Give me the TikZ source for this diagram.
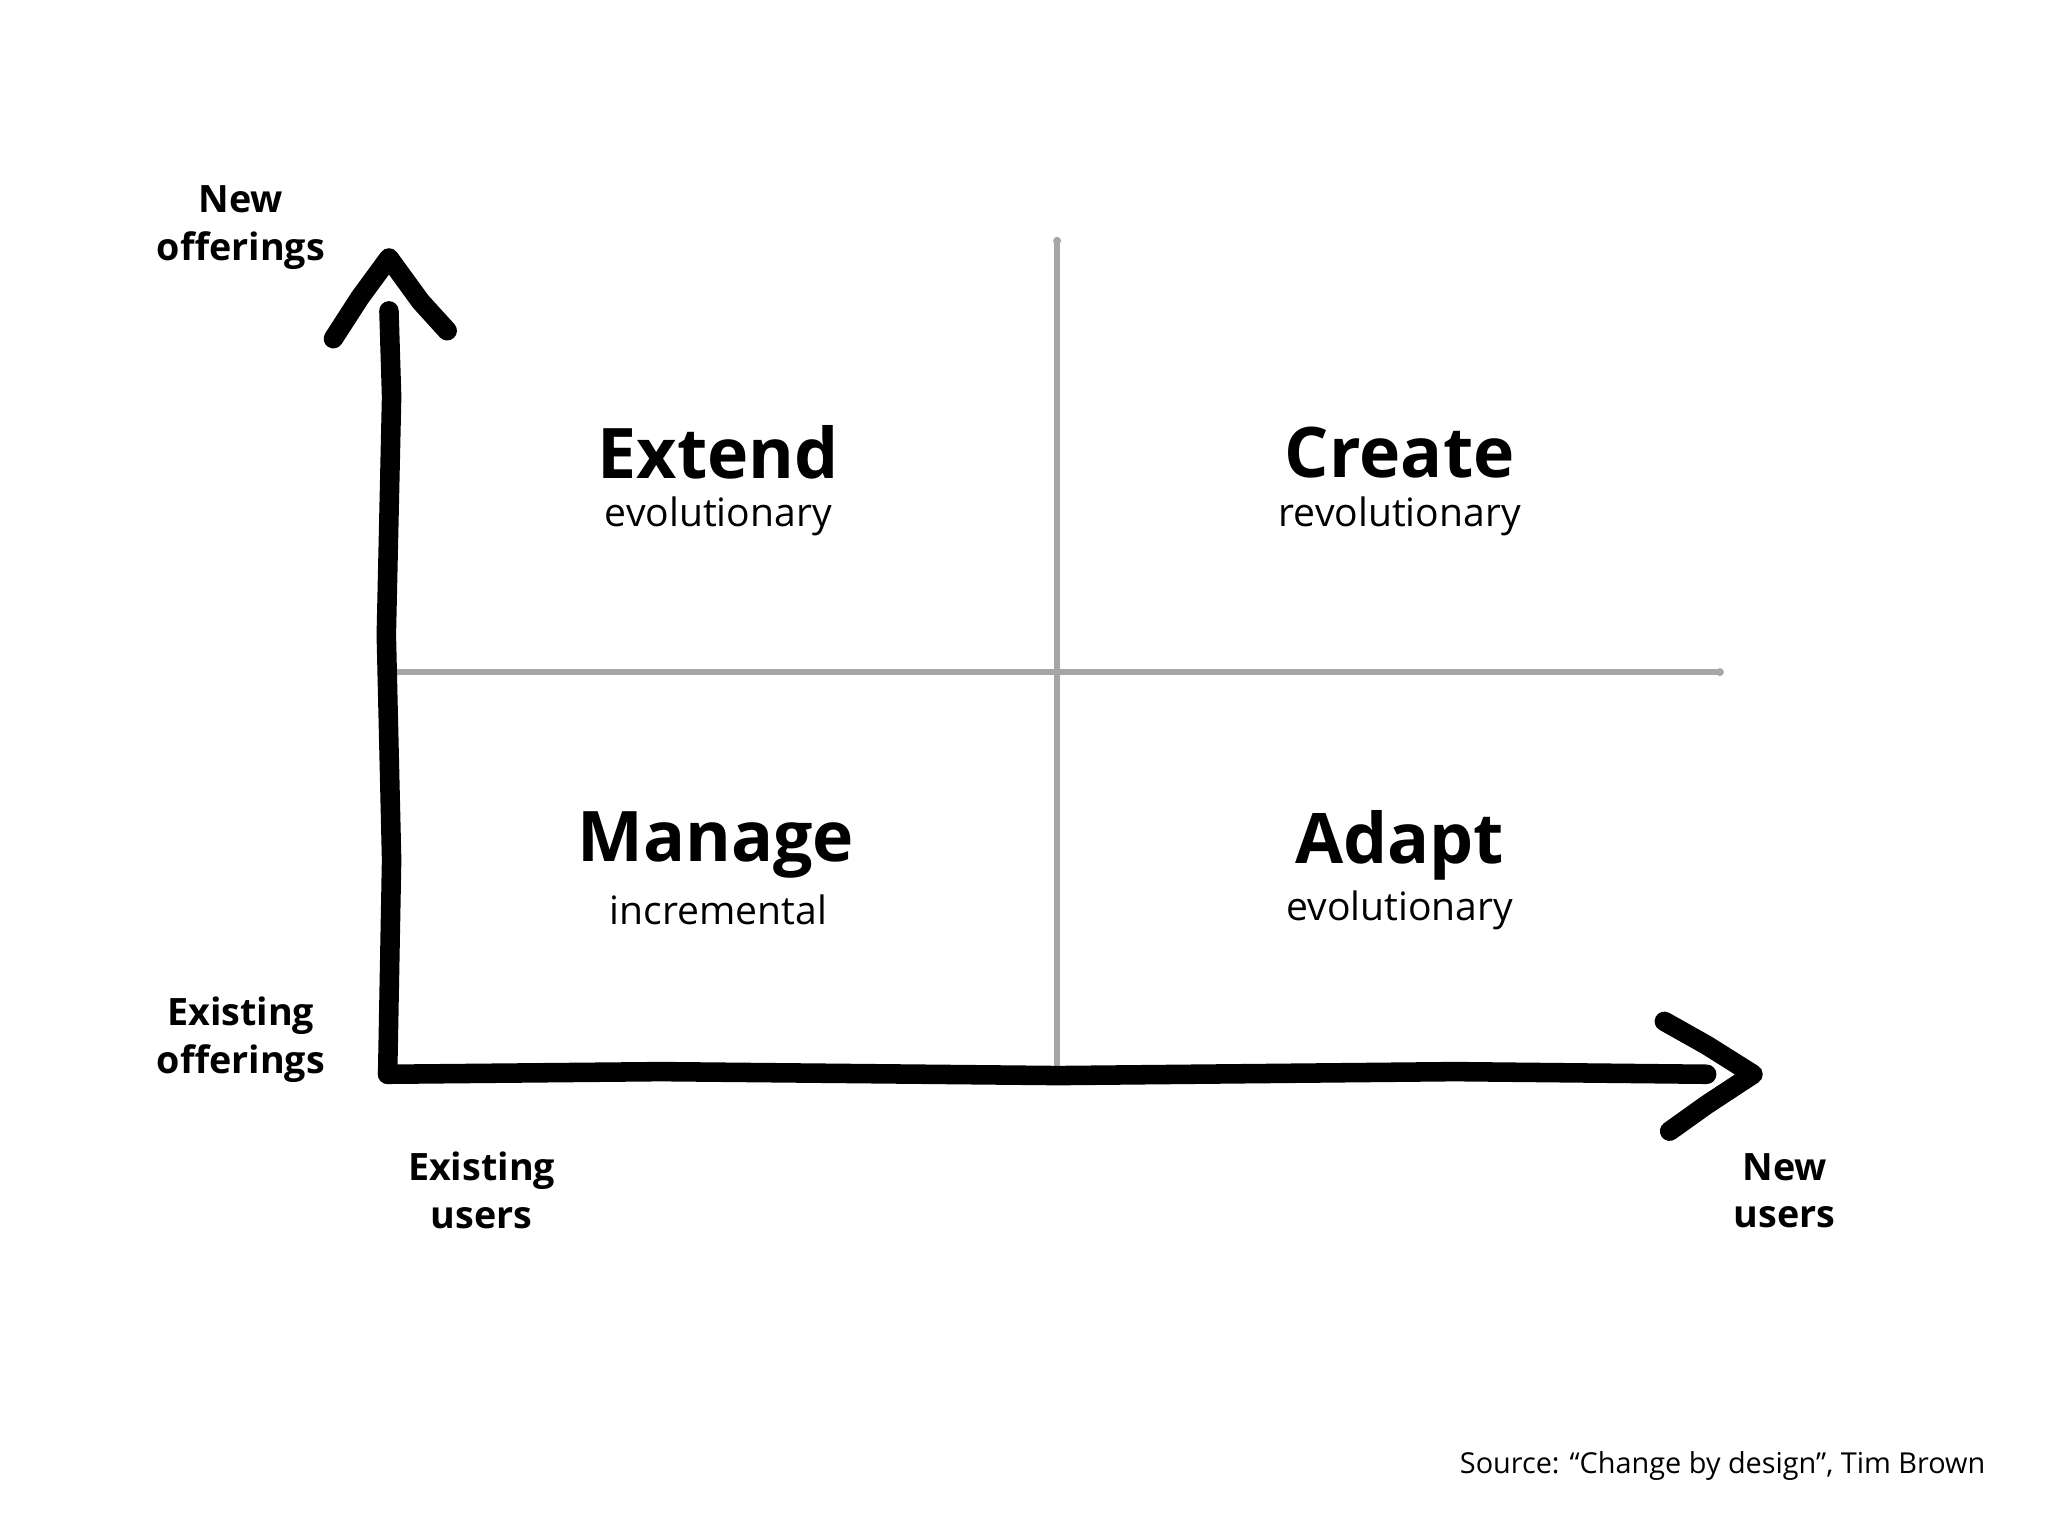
\documentclass[tikz,border=0pt]{standalone}
\usepackage{fontspec}
\setmainfont{Open Sans}
\begin{document}
\begin{tikzpicture}[x=0.01cm,y=-0.01cm,
  axis/.style={line width=4.2pt,line cap=round,line join=round,black},
  grid/.style={line width=1.3pt,line cap=round,gray!70},
  big/.style={font=\fontsize{15}{17}\selectfont\bfseries},
  small/.style={font=\fontsize{8.4}{10}\selectfont},
  lab/.style={font=\fontsize{8.1}{10.3}\selectfont\bfseries,align=center}]
\useasboundingbox (0,0) rectangle (1548,1161);
% grey grid
\coordinate (vt) at (799,182); \coordinate (vb) at (799,810);
\coordinate (hl) at (298,508); \coordinate (hr) at (1300,508);
\draw[grid] (vt) -- (vb);
\draw[grid] (hl) -- (hr);
\fill[gray!70] (vt) circle (3) (vb) circle (3) (hl) circle (3) (hr) circle (3);
% axes
\coordinate (o) at (293,812);
\coordinate (ytop) at (294,195);
\coordinate (xend) at (1325,812);
\draw[axis] (o) -- (296,650) -- (292,480) -- (296,300) -- (294,235);
\draw[axis] (o) -- (500,810) -- (800,813) -- (1100,810) -- (1290,812);
\draw[axis] (252,256) -- (272,225) -- (ytop) -- (318,228) -- (338,250);
\draw[axis] (1258,772) -- (1290,790) -- (xend) -- (1290,835) -- (1262,855);
% quadrant labels
\node[big] (ext) at (543,342) {Extend};
\node[small] (exts) at (543,390) {evolutionary};
\node[big] (cre) at (1058,342) {Create};
\node[small] (cres) at (1058,390) {revolutionary};
\node[big] (man) at (541,639) {Manage};
\node[small] (mans) at (543,688) {incremental};
\node[big] (ada) at (1058,639) {Adapt};
\node[small] (adas) at (1058,688) {evolutionary};
% axis labels
\node[lab] (no) at (182,172) {New\\offerings};
\node[lab] (eo) at (182,786) {Existing\\offerings};
\node[lab] (eu) at (364,900) {Existing\\users};
\node[lab] (nu) at (1349,900) {New\\users};
\node[font=\fontsize{6.2}{8}\selectfont,anchor=east] (src) at (1513,1108) {Source: “Change by design”, Tim Brown};
\end{tikzpicture}
\end{document}
